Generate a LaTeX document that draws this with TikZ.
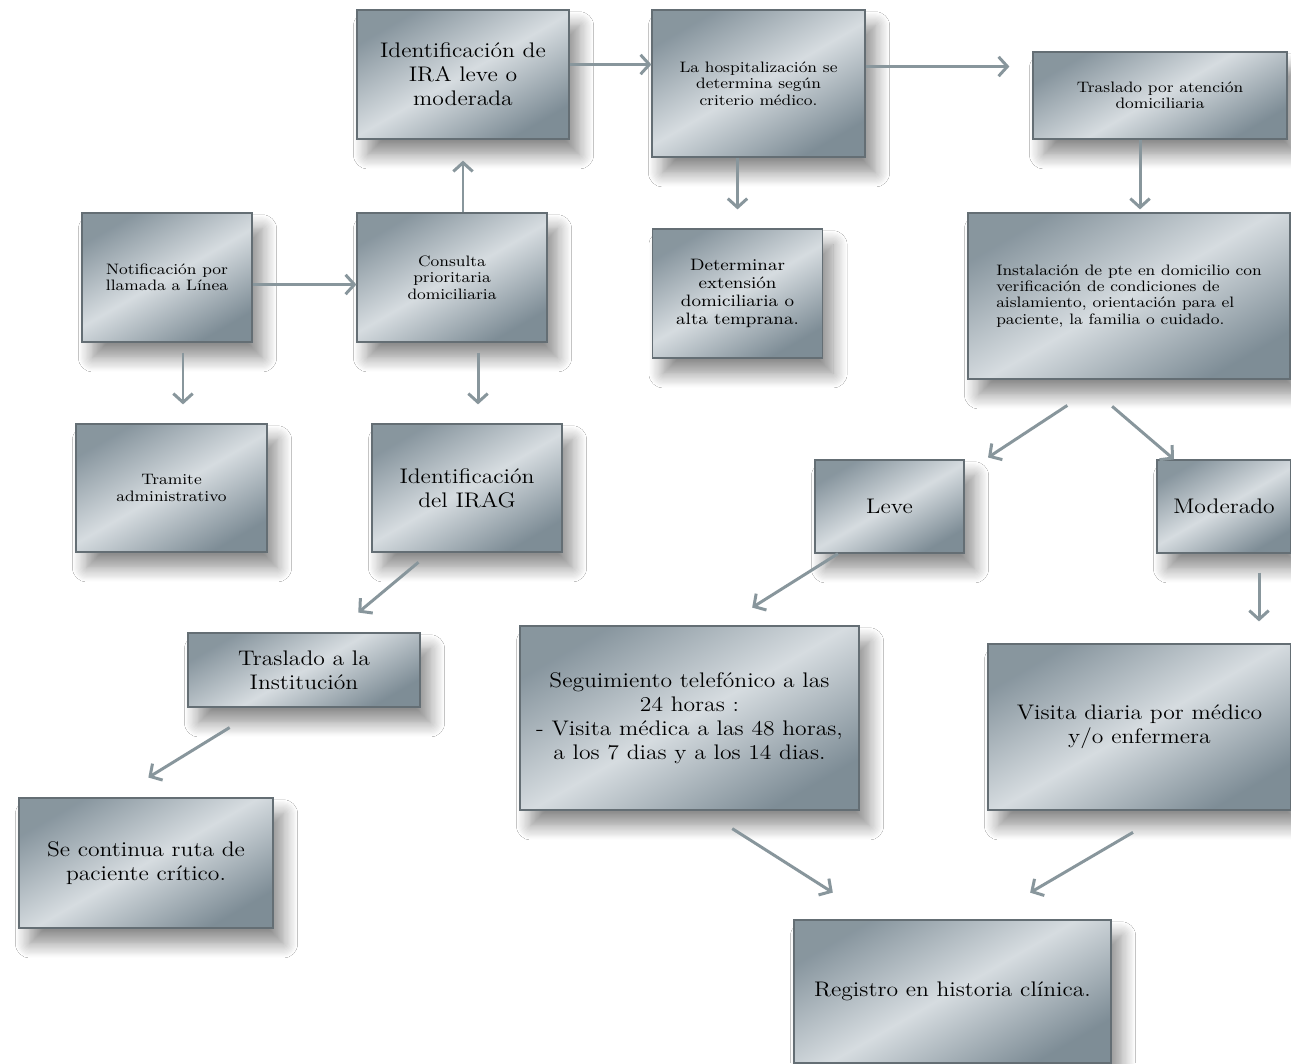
\documentclass[tikz,border=0pt]{standalone}
\usepackage{fontspec}
\setmainfont{Latin Modern Roman}[FakeStretch=1.12]
\usetikzlibrary{calc, arrows.meta, shadows.blur}

\definecolor{slate}{RGB}{116,132,142}
\definecolor{mist}{RGB}{214,220,224}
\definecolor{boxedge}{RGB}{100,110,116}
\definecolor{linkgray}{RGB}{136,150,156}

\begin{document}
\begin{tikzpicture}[
		x=0.02cm, y=-0.02cm,
		% Style for the shaded boxes of the route
		box/.style={
			draw=boxedge, line width=0.7pt,
			top color=slate!80!mist, bottom color=slate!90!mist, middle color=mist,
			shading angle=30,
			align=center, inner sep=3pt,
			blur shadow={shadow xshift=6pt, shadow yshift=-9pt, shadow blur radius=8pt, shadow blur steps=12, shadow opacity=45}
		},
		boxsize/.style 2 args={minimum width=#1*0.02cm, minimum height=#2*0.02cm},
		bigtext/.style={font=\fontsize{12}{13.6}\selectfont},
		smalltext/.style={font=\fontsize{8.6}{9.3}\selectfont},
		% Style for the grey arrows
		link/.style={draw=linkgray, line width=1.7pt, -{Straight Barb[length=5pt, width=11pt]}}
		]
		
		\fill[white] (0,0) rectangle (1291,1063);
		\useasboundingbox (0,0) rectangle (1291,1063);
		
		% --- TOP ROW ---
		\node[box, bigtext, boxsize={212}{129}] (ira) at (463,74.5) {Identificación de\\IRA leve o\\moderada};
		\node[box, smalltext, boxsize={213}{147}] (hosp) at (758.5,83.5) {La hospitalización se\\determina según\\criterio médico.};
		\node[box, smalltext, boxsize={254}{87}] (trasdom) at (1160,95.5) {Traslado por atención\\domiciliaria};
		
		% --- SECOND ROW ---
		\node[box, smalltext, boxsize={170}{129}] (notif) at (167,277.5) {Notificación por\\llamada a Línea};
		\node[box, smalltext, boxsize={190}{129}] (consulta) at (452,277.5) {Consulta\\prioritaria\\domiciliaria};
		\node[box, font=\fontsize{9.4}{10.4}\selectfont, boxsize={170}{129}] (determinar) at (737.5,293.5) {Determinar\\extensión\\domiciliaria o\\alta temprana.};
		\node[box, smalltext, align=left, boxsize={322}{166}] (inst) at (1129,296) {Instalación de pte en domicilio con\\verificación de condiciones de\\aislamiento, orientación para el\\paciente, la familia o cuidado.};
		
		% --- THIRD ROW ---
		\node[box, smalltext, boxsize={191}{128}] (tramite) at (171.5,488) {Tramite\\administrativo};
		\node[box, bigtext, boxsize={190}{128}] (irag) at (467,488) {Identificación\\del IRAG};
		\node[box, bigtext, boxsize={149}{93}] (leve) at (889.5,506.5) {Leve};
		\node[box, bigtext, boxsize={134}{93}] (moderado) at (1224,506.5) {Moderado};
		
		% --- LOWER PART ---
		\node[box, bigtext, boxsize={232}{74}] (trasinst) at (304,670) {Traslado a la\\Institución};
		\node[box, bigtext, boxsize={254}{130}] (continua) at (146,863) {Se continua ruta de\\paciente crítico.};
		\node[box, bigtext, boxsize={339}{184}] (seguim) at (689.5,718) {Seguimiento telefónico a las\\24 horas :\\- Visita médica a las 48 horas,\\a los 7 dias y a los 14 dias.};
		\node[box, bigtext, boxsize={303}{166}] (visita) at (1139.5,727) {Visita diaria por médico\\y/o enfermera};
		\node[box, bigtext, boxsize={317}{143}] (registro) at (952.5,991.5) {Registro en historia clínica.};
		
		% --- ARROWS ---
		\draw[link] ($(notif.east)+(0,7)$) -- ($(notif.east -| consulta.west)+(0,7)$);
		\draw[link, shorten >=0.42cm] (ira.south |- consulta.north) -- (ira.south);
		\draw[link] ($(ira.east)+(0,-10)$) -- ($(ira.east -| hosp.west)+(0,-10)$);
		\draw[link, shorten >=0.46cm] ($(hosp.east)+(0,-17)$) -- ($(hosp.east -| trasdom.west)+(0,-17)$);
		\draw[link, shorten >=0.38cm] (hosp.south -| determinar.north) -- (determinar.north);
		\draw[link, shorten >=0.06cm] ($(trasdom.south)+(-20,0)$) -- ($(trasdom.south |- inst.north)+(-20,0)$);
		\draw[link, shorten <=0.2cm, shorten >=0.38cm] ($(notif.south)+(16,0)$) -- ($(notif.south |- tramite.north)+(16,0)$);
		\draw[link, shorten <=0.2cm, shorten >=0.38cm] ($(consulta.south)+(26,0)$) -- ($(consulta.south |- irag.north)+(26,0)$);
		\draw[link, shorten <=0.3cm, shorten >=0.62cm] ($(irag.south)+(-37,0)$) -- ($(trasinst.north)+(30.5,0)$);
		\draw[link, shorten <=0.76cm, shorten >=0.76cm] ($(trasinst.south)+(-42,0)$) -- ($(continua.north)+(-30,0)$);
		\draw[link, shorten <=0.94cm, shorten >=0.07cm] ($(inst.south)+(-22.4,0)$) -- ($(leve.north)+(95.6,0)$);
		\draw[link, shorten <=0.82cm] ($(inst.south)+(-48,0)$) -- ($(moderado.north)+(-50,0)$);
		\draw[link, shorten >=0.67cm] ($(leve.south)+(-51.5,0)$) -- ($(seguim.north)+(34.3,0)$);
		\draw[link, shorten <=0.38cm, shorten >=0.44cm] ($(moderado.south)+(35,0)$) -- ($(moderado.south |- visita.north)+(35,0)$);
		\draw[link, shorten <=0.67cm, shorten >=1cm] ($(seguim.south)+(14.5,0)$) -- ($(registro.north)+(-77.5,0)$);
		\draw[link, shorten <=0.86cm, shorten >=1.06cm] ($(visita.south)+(30.6,0)$) -- ($(registro.north)+(31.9,0)$);
		
	\end{tikzpicture}
\end{document}
